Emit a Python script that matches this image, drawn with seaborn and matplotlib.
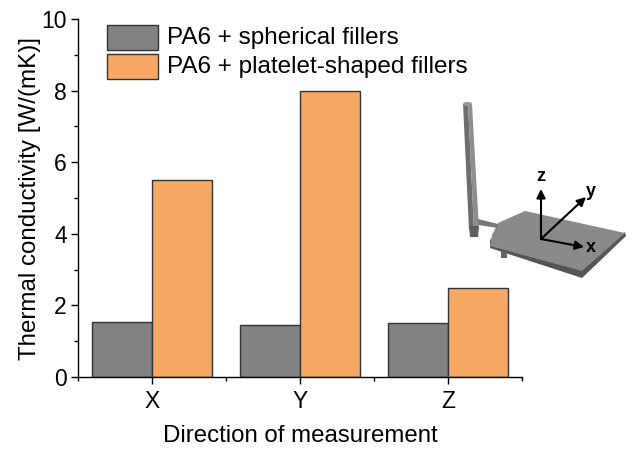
import matplotlib
matplotlib.use("Agg")
import matplotlib.pyplot as plt
from matplotlib.patches import Polygon, Rectangle, FancyArrowPatch, Ellipse
import pandas as pd
import seaborn as sns

directions = ["X", "Y", "Z"]
spherical = [1.55, 1.45, 1.5]
platelet = [5.5, 8.0, 2.5]
label_a = "PA6 + spherical fillers"
label_b = "PA6 + platelet-shaped fillers"

sns.set_theme(style="ticks")
plt.rcParams["font.family"] = ["Liberation Sans", "DejaVu Sans"]

df = pd.DataFrame({
    "Direction": directions * 2,
    "k": spherical + platelet,
    "Series": [label_a] * 3 + [label_b] * 3,
})

GREY, ORANGE, EDGE = "#828282", "#F6A864", "#333333"

fig = plt.figure(figsize=(6.33, 4.5), dpi=100)
W, H = 633, 450
ax = fig.add_axes([78 / W, 1 - 377 / H, (522 - 78) / W, (377 - 19) / H])
sns.barplot(data=df, x="Direction", y="k", hue="Series",
            palette=[GREY, ORANGE], edgecolor=EDGE, linewidth=1.0,
            width=0.805, saturation=1, ax=ax, legend=False, zorder=2)
ax.set_xlim(-0.5, 2.5)
ax.set_ylim(0, 10)
ax.set_yticks([0, 2, 4, 6, 8, 10])
ax.set_yticks([1, 3, 5, 7, 9], minor=True)
ax.set_xticks([-0.5, 0.5, 1.5, 2.5], minor=True)
ax.tick_params(axis="both", which="major", labelsize=16.5, width=1, length=5,
               color="black", labelcolor="black", pad=3)
ax.tick_params(axis="both", which="minor", width=1, length=3, color="black")
ax.tick_params(axis="x", which="major", pad=4)
ax.set_xlabel("Direction of measurement", fontsize=17.3, color="black", labelpad=9)
ax.set_ylabel("Thermal conductivity [W/(mK)]", fontsize=17.4, color="black", labelpad=0)
for side in ("top", "right"):
    ax.spines[side].set_visible(False)
for side in ("left", "bottom"):
    ax.spines[side].set_color("black")
    ax.spines[side].set_linewidth(1)


def px(x, y):
    return (x / W, 1 - y / H)


# legend drawn in figure pixel coordinates
for (y0, c, t) in ((25, GREY, label_a), (54, ORANGE, label_b)):
    fig.add_artist(Rectangle(px(107, y0 + 25), 51 / W, 25 / H, transform=fig.transFigure,
                             facecolor=c, edgecolor=EDGE, linewidth=1.0))
    fig.text(*px(167, y0 + 13), t, fontsize=17.5, va="center", ha="left", color="black")

# inset illustration of the part with its coordinate axes
shapes = [
    # plate rim, then plate top
    ([(490, 238), (490, 248), (582, 278), (626, 236), (625, 232), (582, 268), (492, 243)], "#555555"),
    ([(498, 223), (525, 211), (625, 233), (582, 271), (490, 246), (492, 235)], "#8A8A8A"),
    # tab under the plate
    ([(501, 250), (507, 252), (507, 258), (501, 258)], "#666666"),
    # connector
    ([(478, 219), (498, 224), (498, 228), (478, 225)], "#777777"),
    # antenna body with shaded side
    ([(463, 104), (468, 103), (474, 230), (469, 230)], "#6E6E6E"),
    ([(468, 103), (472, 104), (479, 230), (474, 230)], "#8E8E8E"),
    # antenna foot
    ([(469, 226), (479, 226), (478, 237), (470, 237)], "#5F5F5F"),
]
for pts, col in shapes:
    fig.add_artist(Polygon([px(*p) for p in pts], closed=True, transform=fig.transFigure,
                           facecolor=col, edgecolor="none"))
fig.add_artist(Ellipse(px(467.5, 104), 9 / W, 4 / H, transform=fig.transFigure,
                       facecolor="#9A9A9A", edgecolor="none"))

origin = (541, 239)
for tip in ((541, 189), (586, 197), (584, 247)):
    fig.add_artist(FancyArrowPatch(px(*origin), px(*tip), transform=fig.transFigure,
                                   arrowstyle="-|>", mutation_scale=13, color="black",
                                   linewidth=1.5, shrinkA=0, shrinkB=0))
for (x, y, s) in ((541, 176, "z"), (591, 191, "y"), (591, 248, "x")):
    fig.text(*px(x, y), s, fontsize=13, fontweight="bold", ha="center", va="center", color="black")

fig.savefig("out.png", dpi=100)
